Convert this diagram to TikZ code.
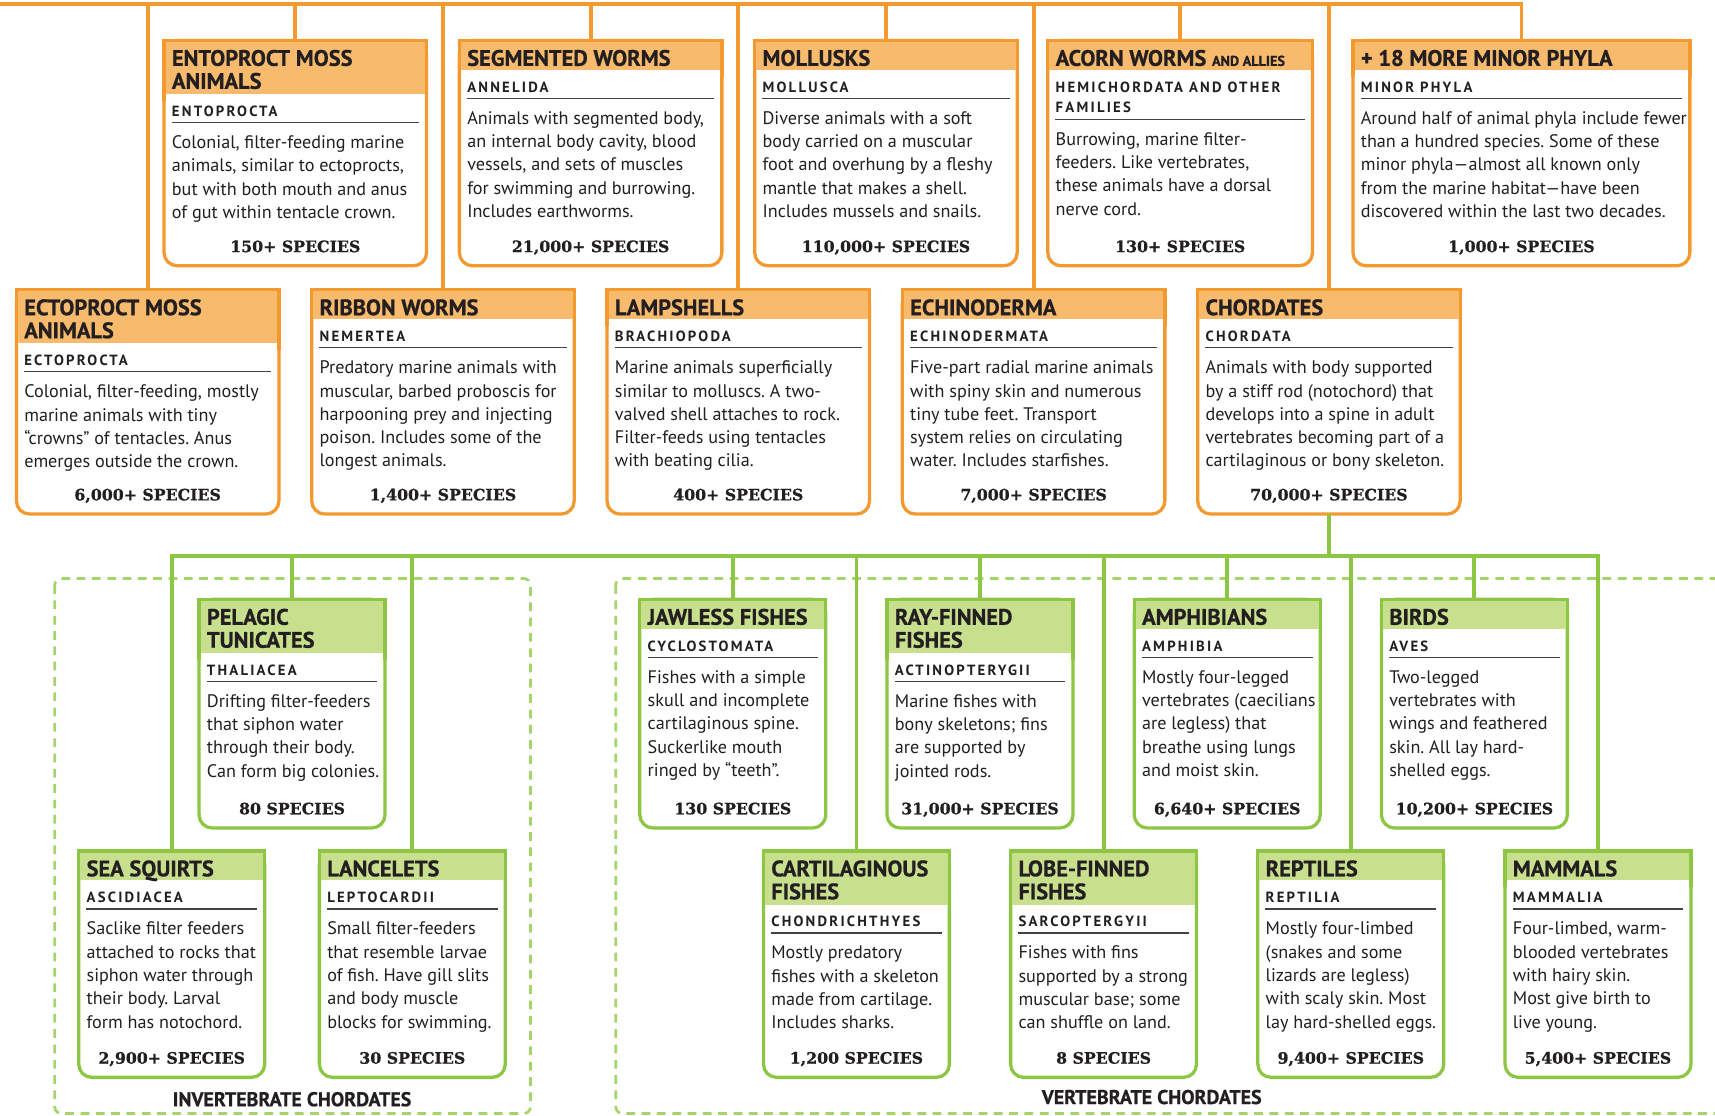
\documentclass[tikz,border=0pt]{standalone}
\usepackage{fontspec}
\setmainfont{PT Sans}
\newfontfamily\titlefam[BoldFeatures={FakeBold=0.7}]{PT Sans}
\newfontfamily\subfam[LetterSpace=15]{PT Sans}
\newfontfamily\specfam[BoldFeatures={FakeBold=0.8}]{DejaVu Serif}
\usetikzlibrary{calc}
\frenchspacing

\definecolor{ink}{HTML}{231F20}
\definecolor{orangeline}{HTML}{F29A30}
\definecolor{orangehead}{HTML}{F8BB6E}
\definecolor{greenline}{HTML}{8DC642}
\definecolor{greenhead}{HTML}{C8E08E}
\definecolor{dashgreen}{HTML}{A5D46A}

\tikzset{
  boxo/.style={draw=orangeline, line width=3pt, fill=white, rounded corners=12pt, inner sep=0pt, outer sep=0pt},
  boxg/.style={draw=greenline, line width=3pt, fill=white, rounded corners=12pt, inner sep=0pt, outer sep=0pt},
  heado/.style={fill=orangehead},
  headg/.style={fill=greenhead},
  edgeo/.style={draw=orangeline, line width=3pt},
  edgeg/.style={draw=greenline, line width=3pt},
  oline/.style={draw=orangeline, line width=3.5pt},
  gline/.style={draw=greenline, line width=3.5pt},
  titletext/.style={font=\fontsize{20.5}{21}\selectfont\titlefam\bfseries, text=ink, inner sep=0pt, align=left, anchor=north west},
  subtext/.style={font=\fontsize{13.5}{19}\selectfont\subfam\bfseries, text=ink, inner sep=0pt, align=left, anchor=north west},
  bodytext/.style={font=\fontsize{16.6}{21.3}\selectfont, text=ink, inner sep=0pt, align=left, anchor=north west},
  speciestext/.style={font=\fontsize{14.4}{16}\selectfont\specfam\bfseries, text=ink, inner sep=0pt, anchor=base},
  rulestyle/.style={draw=ink!85, line width=1.1pt},
  region/.style={draw=dashgreen, line width=2.5pt, dash pattern=on 8pt off 6pt, rounded corners=6pt},
  regionlabel/.style={font=\fontsize{18.2}{20}\selectfont\titlefam\bfseries, text=ink, inner sep=0pt},
}

% card frame: name, o/g, centre x, top y, width, height, header height
\newcommand\card[7]{%
  \node[box#2, minimum width=#5pt, minimum height=#6pt, anchor=north] (#1) at (#3,#4) {};
  \fill[head#2] (#1.north west) rectangle ($(#1.north east)+(0,#7)$);
  \draw[edge#2] ($(#1.north west)+(0,#7+6)$) |- (#1.north east) -- ++(0,#7+6);
}
% card contents: name, title, subtitle, body, species, header height, extra subtitle depth
\newcommand\cardtext[7]{%
  \node[titletext] (#1-title) at ($(#1.north west)+(7,8.3)$) {\strut #2};
  \node[subtext] (#1-sub) at ($(#1.north west)+(7,#6+6.7)$) {\strut #3};
  \draw[rulestyle] ($(#1.north west)+(7,#6+26+#7)$) -- ($(#1.north east)+(-7,#6+26+#7)$);
  \node[bodytext] (#1-body) at ($(#1.north west)+(7,#6+34.6+#7)$) {\strut #4};
  \node[speciestext] (#1-count) at ($(#1.south)+(0,-12.5)$) {#5};
}

\begin{document}
\begin{tikzpicture}[x=1pt,y=-1pt]
\useasboundingbox (0,0) rectangle (1568,1020);
\clip (0,0) rectangle (1568,1020);

% chordate groupings
\draw[region] (50,529) rectangle (485,1018);
\draw[region] (563,529) rectangle (1600,1018);
\node[regionlabel] (invlabel) at (267,1005) {INVERTEBRATE CHORDATES};
\node[regionlabel] (vertlabel) at (1053,1003) {VERTEBRATE CHORDATES};

% phyla
\card{ento}{o}{270}{37}{240}{206}{49}
\card{annel}{o}{540}{37}{240}{206}{27}
\card{moll}{o}{810}{37}{240}{206}{27}
\card{hemi}{o}{1079}{37}{242}{206}{27}
\card{minor}{o}{1391}{37}{308}{206}{27}
\card{ecto}{o}{135}{265}{240}{205}{49}
\card{nemer}{o}{405}{265}{240}{205}{27}
\card{brach}{o}{675}{265}{240}{205}{27}
\card{echino}{o}{945}{265}{240}{205}{27}
\card{chord}{o}{1215}{265}{240}{205}{27}

% chordate classes
\card{thal}{g}{267}{548}{170}{209}{49}
\card{cyclo}{g}{670}{548}{170}{209}{27}
\card{actino}{g}{896}{548}{170}{209}{49}
\card{amph}{g}{1122}{548}{170}{209}{27}
\card{aves}{g}{1348}{548}{170}{209}{27}
\card{ascid}{g}{157}{778}{170}{207}{27}
\card{lepto}{g}{377}{778}{170}{207}{27}
\card{chond}{g}{783}{778}{170}{207}{49}
\card{sarco}{g}{1009}{778}{170}{207}{49}
\card{rept}{g}{1235}{778}{170}{207}{27}
\card{mamm}{g}{1461}{778}{170}{207}{27}

% orange tree
\coordinate (obus) at (0,4);
\draw[oline] (obus) -| (minor.north);
\foreach \n in {ecto,ento,nemer,annel,brach,moll,echino,hemi,chord}
  \draw[oline] (\n.north) -- (\n.north |- obus);

% green tree
\coordinate (gbus) at (0,508);
\draw[gline] (chord.south) -- (chord.south |- gbus);
\draw[gline] (ascid.north) -- (ascid.north |- gbus) -- (mamm.north |- gbus) -- (mamm.north);
\foreach \n in {thal,lepto,cyclo,chond,actino,sarco,amph,rept,aves}
  \draw[gline] (\n.north) -- (\n.north |- gbus);

% texts
\cardtext{ento}{ENTOPROCT MOSS\\ANIMALS}{ENTOPROCTA}{Colonial, filter-feeding marine\\animals, similar to ectoprocts,\\but with both mouth and anus\\of gut within tentacle crown.}{150+ SPECIES}{49}{0}
\cardtext{annel}{SEGMENTED WORMS}{ANNELIDA}{Animals with segmented body,\\an internal body cavity, blood\\vessels, and sets of muscles\\for swimming and burrowing.\\Includes earthworms.}{21,000+ SPECIES}{27}{0}
\cardtext{moll}{MOLLUSKS}{MOLLUSCA}{Diverse animals with a soft\\body carried on a muscular\\foot and overhung by a fleshy\\mantle that makes a shell.\\Includes mussels and snails.}{110,000+ SPECIES}{27}{0}
\cardtext{hemi}{ACORN WORMS {\fontsize{13}{21}\selectfont AND ALLIES}}{HEMICHORDATA AND OTHER\\FAMILIES}{Burrowing, marine filter-\\feeders. Like vertebrates,\\these animals have a dorsal\\nerve cord.}{130+ SPECIES}{27}{19}
\cardtext{minor}{+ 18 MORE MINOR PHYLA}{MINOR PHYLA}{Around half of animal phyla include fewer\\than a hundred species. Some of these\\minor phyla—almost all known only\\from the marine habitat—have been\\discovered within the last two decades.}{1,000+ SPECIES}{27}{0}
\cardtext{ecto}{ECTOPROCT MOSS\\ANIMALS}{ECTOPROCTA}{Colonial, filter-feeding, mostly\\marine animals with tiny\\“crowns” of tentacles. Anus\\emerges outside the crown.}{6,000+ SPECIES}{49}{0}
\cardtext{nemer}{RIBBON WORMS}{NEMERTEA}{Predatory marine animals with\\muscular, barbed proboscis for\\harpooning prey and injecting\\poison. Includes some of the\\longest animals.}{1,400+ SPECIES}{27}{0}
\cardtext{brach}{LAMPSHELLS}{BRACHIOPODA}{Marine animals superficially\\similar to molluscs. A two-\\valved shell attaches to rock.\\Filter-feeds using tentacles\\with beating cilia.}{400+ SPECIES}{27}{0}
\cardtext{echino}{ECHINODERMA}{ECHINODERMATA}{Five-part radial marine animals\\with spiny skin and numerous\\tiny tube feet. Transport\\system relies on circulating\\water. Includes starfishes.}{7,000+ SPECIES}{27}{0}
\cardtext{chord}{CHORDATES}{CHORDATA}{Animals with body supported\\by a stiff rod (notochord) that\\develops into a spine in adult\\vertebrates becoming part of a\\cartilaginous or bony skeleton.}{70,000+ SPECIES}{27}{0}

\cardtext{thal}{PELAGIC\\TUNICATES}{THALIACEA}{Drifting filter-feeders\\that siphon water\\through their body.\\Can form big colonies.}{80 SPECIES}{49}{0}
\cardtext{cyclo}{JAWLESS FISHES}{CYCLOSTOMATA}{Fishes with a simple\\skull and incomplete\\cartilaginous spine.\\Suckerlike mouth\\ringed by “teeth”.}{130 SPECIES}{27}{0}
\cardtext{actino}{RAY-FINNED\\FISHES}{ACTINOPTERYGII}{Marine fishes with\\bony skeletons; fins\\are supported by\\jointed rods.}{31,000+ SPECIES}{49}{0}
\cardtext{amph}{AMPHIBIANS}{AMPHIBIA}{Mostly four-legged\\vertebrates (caecilians\\are legless) that\\breathe using lungs\\and moist skin.}{6,640+ SPECIES}{27}{0}
\cardtext{aves}{BIRDS}{AVES}{Two-legged\\vertebrates with\\wings and feathered\\skin. All lay hard-\\shelled eggs.}{10,200+ SPECIES}{27}{0}
\cardtext{ascid}{SEA SQUIRTS}{ASCIDIACEA}{Saclike filter feeders\\attached to rocks that\\siphon water through\\their body. Larval\\form has notochord.}{2,900+ SPECIES}{27}{0}
\cardtext{lepto}{LANCELETS}{LEPTOCARDII}{Small filter-feeders\\that resemble larvae\\of fish. Have gill slits\\and body muscle\\blocks for swimming.}{30 SPECIES}{27}{0}
\cardtext{chond}{CARTILAGINOUS\\FISHES}{CHONDRICHTHYES}{Mostly predatory\\fishes with a skeleton\\made from cartilage.\\Includes sharks.}{1,200 SPECIES}{49}{0}
\cardtext{sarco}{LOBE-FINNED\\FISHES}{SARCOPTERGYII}{Fishes with fins\\supported by a strong\\muscular base; some\\can shuffle on land.}{8 SPECIES}{49}{0}
\cardtext{rept}{REPTILES}{REPTILIA}{Mostly four-limbed\\(snakes and some\\lizards are legless)\\with scaly skin. Most\\lay hard-shelled eggs.}{9,400+ SPECIES}{27}{0}
\cardtext{mamm}{MAMMALS}{MAMMALIA}{Four-limbed, warm-\\blooded vertebrates\\with hairy skin.\\Most give birth to\\live young.}{5,400+ SPECIES}{27}{0}
\end{tikzpicture}
\end{document}
